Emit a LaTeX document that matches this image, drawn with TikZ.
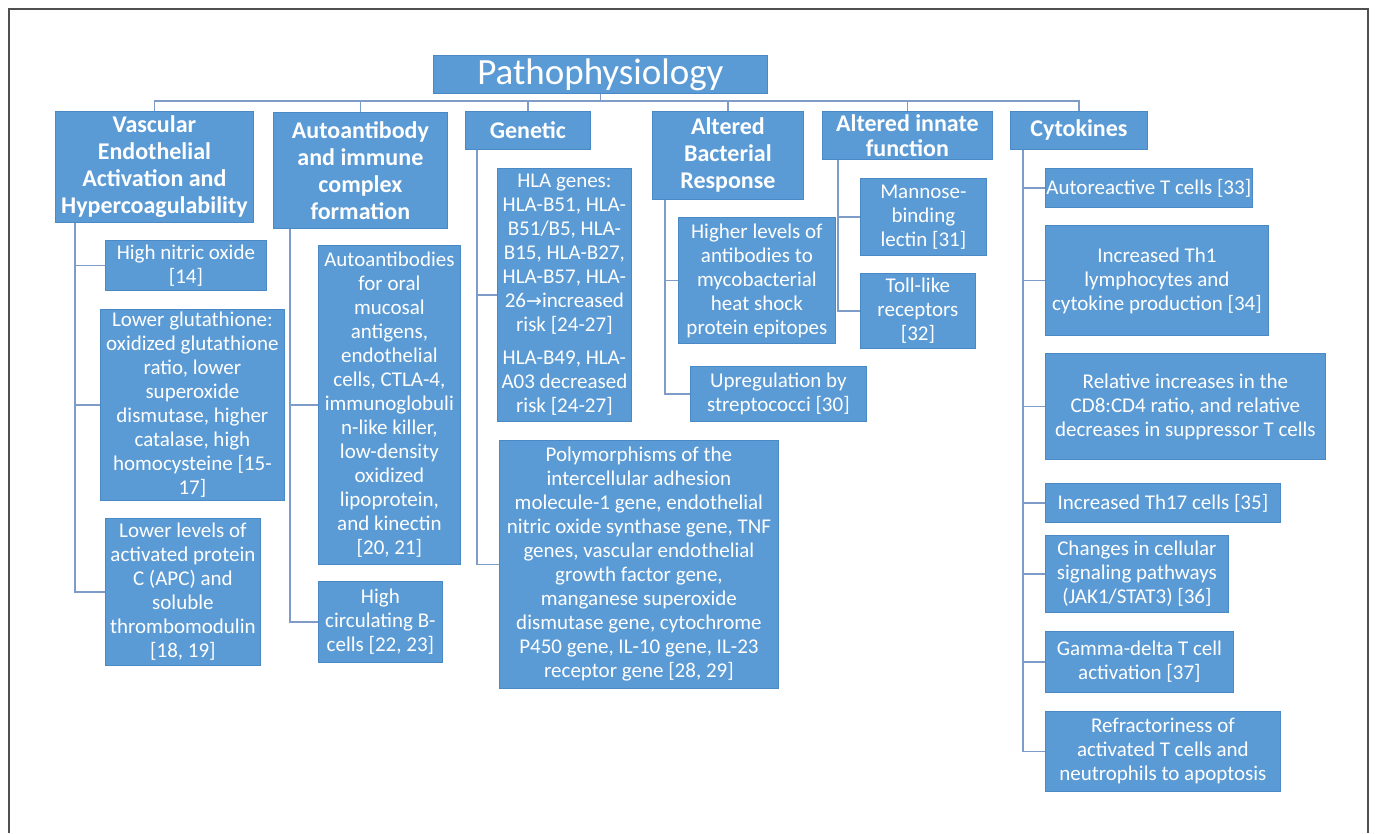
\documentclass[tikz,border=0pt]{standalone}
\usepackage{fontspec}
\setmainfont{Carlito}
\newfontfamily\arrowfont{DejaVu Sans}
\usetikzlibrary{calc}
\definecolor{boxblue}{HTML}{5B9BD5}
\definecolor{boxedge}{HTML}{4A88C6}
\definecolor{linkblue}{HTML}{7F9CC8}
\definecolor{framegray}{HTML}{505050}

\tikzset{
  box/.style={fill=boxblue, draw=boxedge, line width=0.8pt, text=white,
    align=center, anchor=north west, inner xsep=1pt, inner ysep=0pt},
  hdr/.style={box, font=\fontsize{24}{27}\selectfont\bfseries},
  leaf/.style={box, font=\fontsize{21}{24}\selectfont},
  link/.style={draw=linkblue, line width=1.2pt},
  sz/.style 2 args={minimum width=#1, minimum height=#2}
}

\begin{document}
\begin{tikzpicture}[x=1pt, y=-1pt]
\useasboundingbox (0,0) rectangle (1375,833);
\draw[framegray, line width=1.5pt] (9,833) |- (1368,9) -- (1368,833);

% title and headers
\node[box, font=\fontsize{37}{40}\selectfont, sz={334}{38}] (title) at (433,55) {Pathophysiology};
\node[hdr, sz={198}{111}] (vasc) at (55,111) {Vascular\\Endothelial\\Activation and\\Hypercoagulability};
\node[hdr, sz={174}{116}] (auto) at (273,112) {Autoantibody\\and immune\\complex\\formation};
\node[hdr, sz={125}{38}] (gene) at (465,111) {Genetic};
\node[hdr, sz={151}{88}] (bact) at (652,111) {Altered\\Bacterial\\Response};
\node[hdr, sz={170}{48}, font=\fontsize{24}{25}\selectfont\bfseries] (innate) at (822,111) {Altered innate\\function};
\node[hdr, sz={137}{38}] (cyto) at (1010,111) {Cytokines};

\coordinate (bus) at (600,101);
\foreach \h in {vasc,auto,gene,bact,innate,cyto}
  \draw[link] (title.south) |- (\h.north |- bus) -- (\h.north);

% vascular
\node[leaf, sz={161}{50}] (nitric) at (105,240) {High nitric oxide\\{[14]}};
\node[leaf, sz={184}{191}] (gluta) at (100,309) {Lower glutathione:\\oxidized glutathione\\ratio, lower\\superoxide\\dismutase, higher\\catalase, high\\homocysteine [15-\\17]};
\node[leaf, sz={155}{147}] (apc) at (105,518) {Lower levels of\\activated protein\\C (APC) and\\soluble\\thrombomodulin\\{[18, 19]}};

% autoantibody
\node[leaf, sz={142}{319}] (abod) at (318,245) {Autoantibodies\\for oral\\mucosal\\antigens,\\endothelial\\cells, CTLA-4,\\immunoglobuli\\n-like killer,\\low-density\\oxidized\\lipoprotein,\\and kinectin\\{[20, 21]}};
\node[leaf, sz={124}{81}] (bcell) at (318,581) {High\\circulating B-\\cells [22, 23]};

% genetic
\node[leaf, sz={134}{253}] (hla) at (497,168) {HLA genes:\\HLA-B51, HLA-\\B51/B5, HLA-\\B15, HLA-B27,\\HLA-B57, HLA-\\26{\arrowfont\fontsize{19}{24}\selectfont →}increased\\risk [24-27]\\[9pt]HLA-B49, HLA-\\A03 decreased\\risk [24-27]};
\node[leaf, sz={279}{248}] (poly) at (499,440) {Polymorphisms of the\\intercellular adhesion\\molecule-1 gene, endothelial\\nitric oxide synthase gene, TNF\\genes, vascular endothelial\\growth factor gene,\\manganese superoxide\\dismutase gene, cytochrome\\P450 gene, IL-10 gene, IL-23\\receptor gene [28, 29]};

% bacterial
\node[leaf, sz={157}{126}] (hsp) at (678,217) {Higher levels of\\antibodies to\\mycobacterial\\heat shock\\protein epitopes};
\node[leaf, sz={176}{55}] (strep) at (690,366) {Upregulation by\\streptococci [30]};

% innate
\node[leaf, sz={126}{77}] (mbl) at (860,178) {Mannose-\\binding\\lectin [31]};
\node[leaf, sz={115}{75}] (tlr) at (860,273) {Toll-like\\receptors\\{[32]}};

% cytokines
\node[leaf, sz={203}{39}] (autot) at (1045,168) {Autoreactive T cells [33]};
\node[leaf, sz={223}{110}] (th1) at (1045,225) {Increased Th1\\lymphocytes and\\cytokine production [34]};
\node[leaf, sz={280}{106}] (cd8) at (1045,353) {Relative increases in the\\CD8:CD4 ratio, and relative\\decreases in suppressor T cells};
\node[leaf, sz={235}{39}] (th17) at (1045,483) {Increased Th17 cells [35]};
\node[leaf, sz={183}{77}] (jak) at (1045,535) {Changes in cellular\\signaling pathways\\(JAK1/STAT3) [36]};
\node[leaf, sz={188}{61}] (gd) at (1045,631) {Gamma-delta T cell\\activation [37]};
\node[leaf, sz={235}{80}] (refr) at (1045,711) {Refractoriness of\\activated T cells and\\neutrophils to apoptosis};

% trunks
\coordinate (vasc-t) at ($(vasc.south west)+(20,0)$);
\coordinate (auto-t) at ($(auto.south west)+(17,0)$);
\coordinate (gene-t) at ($(gene.south west)+(12,0)$);
\coordinate (bact-t) at ($(bact.south west)+(13,0)$);
\coordinate (innate-t) at ($(innate.south west)+(16,0)$);
\coordinate (cyto-t) at ($(cyto.south west)+(13,0)$);

\foreach \c in {nitric,gluta,apc} \draw[link] (vasc-t) |- (\c.west);
\foreach \c in {abod,bcell} \draw[link] (auto-t) |- (\c.west);
\foreach \c in {hla,poly} \draw[link] (gene-t) |- (\c.west);
\foreach \c in {hsp,strep} \draw[link] (bact-t) |- (\c.west);
\foreach \c in {mbl,tlr} \draw[link] (innate-t) |- (\c.west);
\foreach \c in {autot,th1,cd8,th17,jak,gd,refr} \draw[link] (cyto-t) |- (\c.west);
\end{tikzpicture}
\end{document}
